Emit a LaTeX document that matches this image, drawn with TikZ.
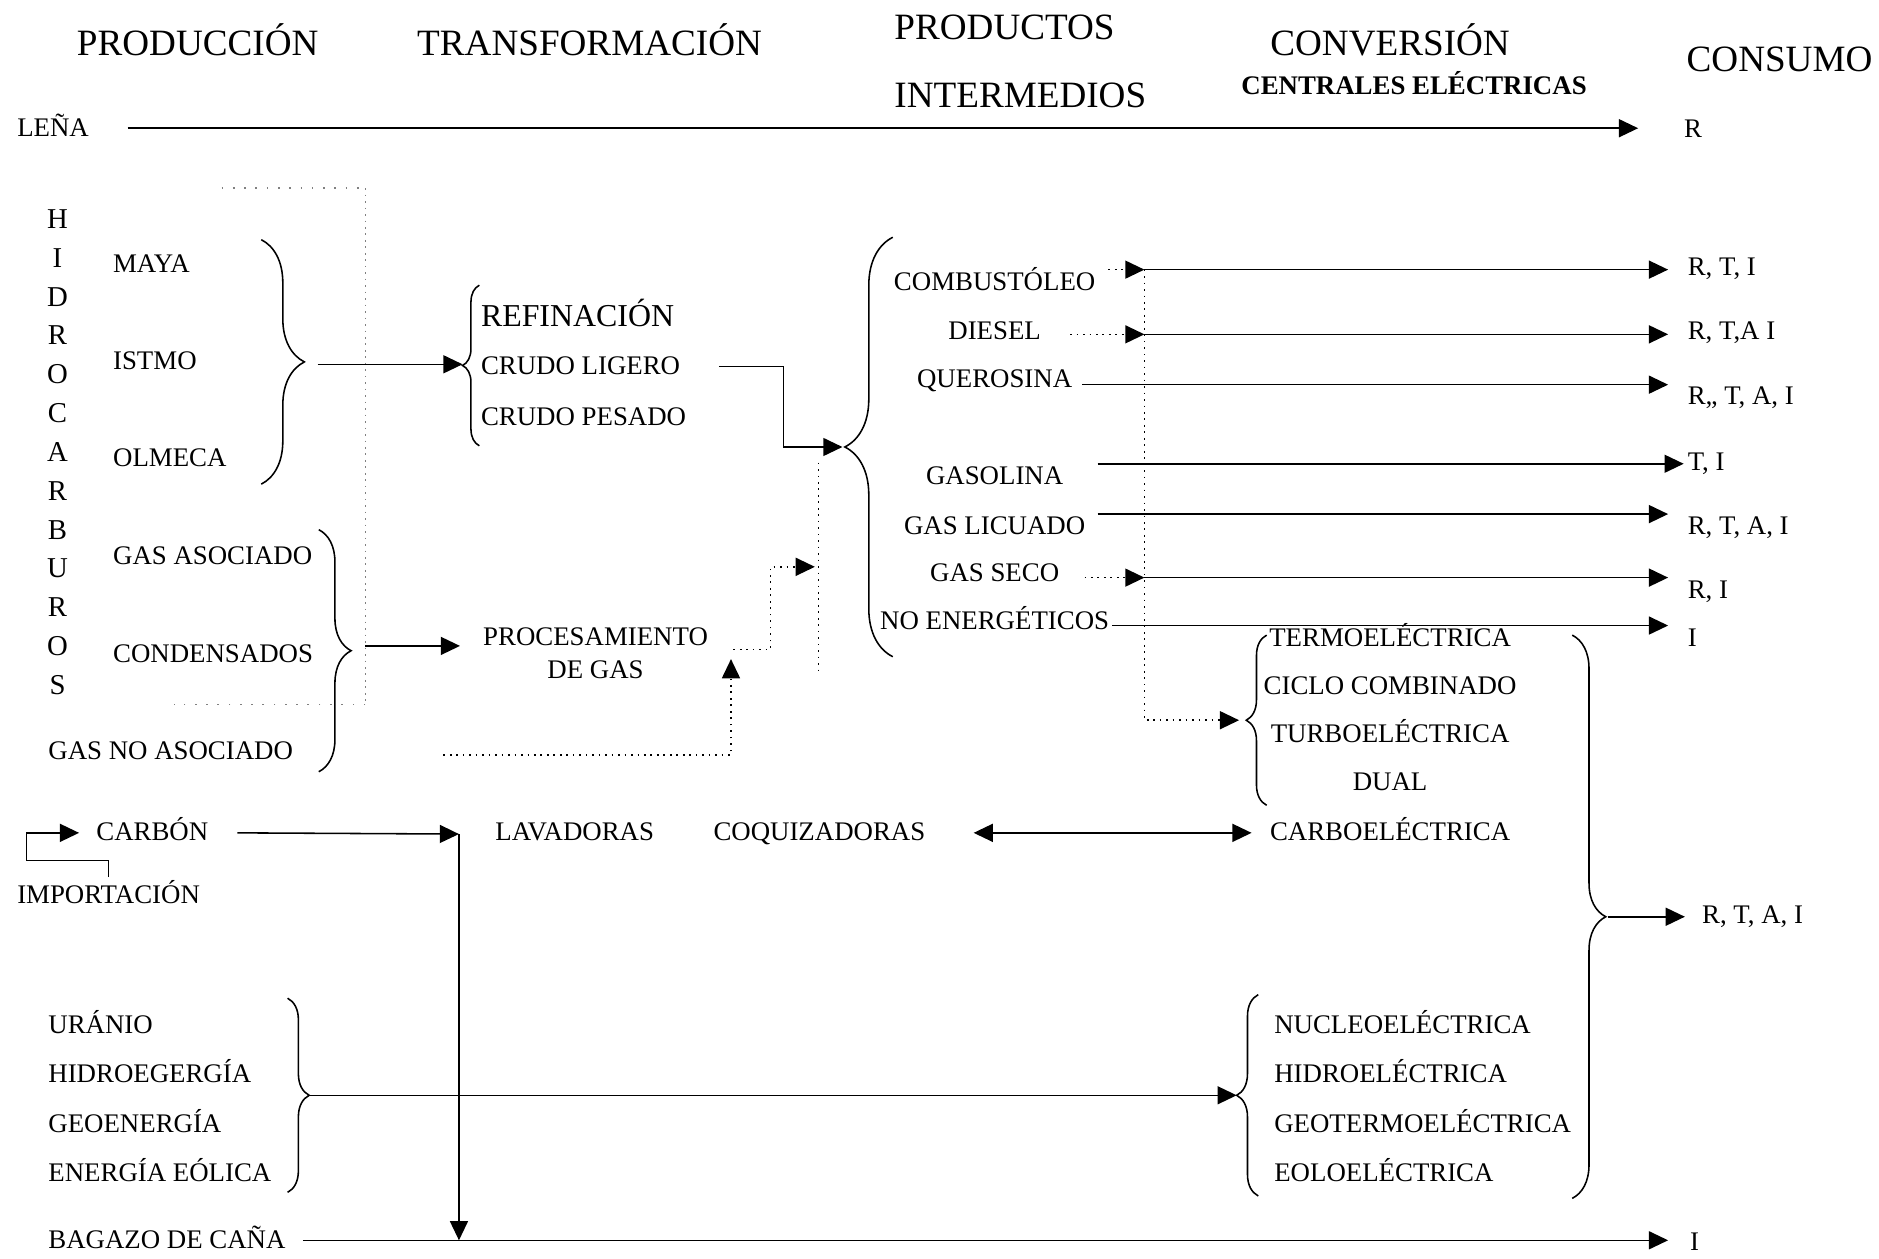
\documentclass[tikz,border=0pt]{standalone}
\usepackage{fontspec}
\setmainfont{Liberation Serif}
\usetikzlibrary{arrows.meta,decorations.pathreplacing}

\tikzset{
  lbl/.style={inner sep=0pt, text height=1.45ex, text depth=0pt, yshift=-1pt, font=\fontsize{11.2}{13}\selectfont},
  hdr/.style={lbl, yshift=-1.5pt, font=\fontsize{15.5}{18}\selectfont},
  flow/.style={line width=0.65pt, ->},
  dots/.style={line width=0.7pt, dotted},
  dotflow/.style={dots, ->},
  brc/.style={decorate, line width=0.65pt, decoration={brace, amplitude=#1}},
}

\begin{document}
\begin{tikzpicture}[x=0.5pt, y=-0.5pt, >={Triangle[length=8pt,width=7.5pt]}]
  \useasboundingbox (0,0) rectangle (1568,1050);
  % titulos
  \node[hdr] (tprod) at (165,35) {PRODUCCIÓN};
  \node[hdr] (ttrans) at (492,35) {TRANSFORMACIÓN};
  \node[hdr, anchor=west] (tint1) at (746,21) {PRODUCTOS};
  \node[hdr, anchor=west] (tint2) at (746,78) {INTERMEDIOS};
  \node[hdr] (tconv) at (1160,35) {CONVERSIÓN};
  \node[lbl, font=\fontsize{11.2}{13}\bfseries] (tcent) at (1180,70) {CENTRALES ELÉCTRICAS};
  \node[hdr] (tcons) at (1485,48) {CONSUMO};

  % leña
  \node[lbl, anchor=west] (lena) at (14,105) {LEÑA};
  \node[lbl, anchor=west] (kl) at (1405,106) {R};
  \draw[flow, shorten >=19pt] ([xshift=16pt]lena.east) -- (lena.east -| kl.west);

  % hidrocarburos
  \foreach [count=\k] \ch in {H,I,D,R,O,C,A,R,B,U,R,O,S}
    \node[lbl, font=\fontsize{12}{14}\selectfont] (h\k) at (48,{182+32.4*(\k-1)}) {\ch};
  \draw[dots, loosely dotted, gray] (185,157) -- (305,157);
  \draw[dots, gray] (305,157) -- (305,588);
  \draw[dots, loosely dotted, gray] (305,588) -- (145,588);

  % crudos y refinacion
  \foreach \nm/\tx/\y in {maya/MAYA/219, istmo/ISTMO/300, olmeca/OLMECA/381}
    \node[lbl, anchor=west] (\nm) at (94,\y) {\tx};
  \draw[brc=18pt] (218,200) -- (218,404);
  \coordinate (crtip) at (265,304);
  \draw[brc=7pt] (400,372) -- (400,238);
  \coordinate (reftip) at (386,304);
  \draw[flow] (crtip) -- (reftip);
  \node[lbl, anchor=west, font=\fontsize{13.3}{16}\selectfont] (refin) at (401,264) {REFINACIÓN};
  \node[lbl, anchor=west] (ligero) at (401,304) {CRUDO LIGERO};
  \node[lbl, anchor=west] (pesado) at (401,346) {CRUDO PESADO};

  % productos intermedios
  \coordinate (prtip) at (703,373);
  \draw[flow] ([xshift=16pt]ligero.east) -- ++(54,0) |- (prtip);
  \draw[brc=20pt] (745,548) -- (745,198);
  \foreach \i/\tx/\yt/\yl/\xs/\cs/\yk/\gp in {
      1/COMBUSTÓLEO/234/225/955/{R, T, I}/221/8,
      2/DIESEL/275/279/955/{R, T,A I}/275/8,
      3/QUEROSINA/315/321/903/{R,, T, A, I}/329/8,
      4/GASOLINA/396/387/916/{T, I}/384/1.5,
      5/GAS LICUADO/437/429/916/{R, T, A, I}/437/8,
      6/GAS SECO/477/482/955/{R, I}/491/8,
      7/NO ENERGÉTICOS/517/522/928/I/531/8}{
    \node[lbl] (p\i) at (830,\yt) {\tx};
    \node[lbl, anchor=west] (k\i) at (1408,\yk) {\cs};
    \coordinate (s\i) at (\xs,\yl);
    \draw[flow, shorten >=\gp pt] (s\i) -- (s\i -| k\i.west);
  }
  \coordinate (d1) at (925,225);
  \coordinate (d2) at (893,279);
  \coordinate (d6) at (905,482);
  \foreach \i in {1,2,6}
    \draw[dotflow] (d\i) -- (s\i);

  % centrales termicas
  \draw[brc=8.5pt] (1057,672) -- (1057,530);
  \coordinate (thtip) at (1040,601);
  \draw[dotflow, shorten >=3pt] (s1) |- (thtip);
  \foreach \nm/\tx/\y in {termo/TERMOELÉCTRICA/531, ciclo/CICLO COMBINADO/571,
      turbo/TURBOELÉCTRICA/611, dual/DUAL/651, carbo/CARBOELÉCTRICA/693}
    \node[lbl] (\nm) at (1160,\y) {\tx};
  \draw[brc=14pt] (1312,530) -- (1312,1000);
  \coordinate (bigtip) at (1342,765);
  \node[lbl, anchor=west] (kr) at (1420,762) {R, T, A, I};
  \draw[flow, shorten >=7pt] (bigtip) -- (bigtip -| kr.west);

  % gas
  \foreach \nm/\tx/\x/\y in {gasaso/GAS ASOCIADO/94/462, cond/CONDENSADOS/94/544,
      gasno/GAS NO ASOCIADO/40/625}
    \node[lbl, anchor=west] (\nm) at (\x,\y) {\tx};
  \draw[brc=13.5pt] (266,442) -- (266,644);
  \coordinate (gstip) at (305,539);
  \node[inner sep=0pt, align=center, yshift=-1pt, font=\fontsize{11.2}{13.5}\selectfont] (proc) at (497,543) {PROCESAMIENTO\\DE GAS};
  \draw[flow, shorten >=9.5pt] (gstip) -- (gstip -| proc.west);
  \coordinate (gb) at (370,630);
  \coordinate (gup) at (610,550);
  \draw[dotflow] (gb) -| (gup);
  \coordinate (ga) at (612,542);
  \coordinate (gq) at (680,473);
  \draw[dotflow] (ga) -- (643,542) |- (gq);
  \draw[dots] (683,386) -- (683,560);

  % carbon
  \node[lbl, anchor=west] (bagazo) at (40,1033) {BAGAZO DE CAÑA};
  \node[lbl, anchor=west] (carbon) at (80,693) {CARBÓN};
  \node[lbl, anchor=west] (impo) at (14,745) {IMPORTACIÓN};
  \draw[flow, shorten <=4pt, shorten >=7pt] (impo.north) |- (22,718) |- (carbon.west);
  \node[lbl, anchor=west] (lav) at (413,693) {LAVADORAS};
  \node[lbl, anchor=west] (coq) at (595,693) {COQUIZADORAS};
  \coordinate (cv) at (383,696);
  \draw[flow] ([xshift=12pt]carbon.east) -- (cv);
  \draw[flow] (cv) -- (cv |- bagazo);
  \draw[flow, <->] ([xshift=20pt]coq.east) -- ([xshift=-7.5pt]carbo.west);

  % uranio y renovables
  \foreach \nm/\tx/\y in {uran/URÁNIO/854, hidro/HIDROEGERGÍA/895, geo/GEOENERGÍA/936,
      eol/ENERGÍA EÓLICA/977}
    \node[lbl, anchor=west] (\nm) at (40,\y) {\tx};
  \draw[brc=9pt] (240,833) -- (240,995);
  \coordinate (rntip) at (258,914);
  \draw[brc=9pt] (1050,998) -- (1050,830);
  \coordinate (nctip) at (1032,914);
  \draw[flow] (rntip) -- (nctip);
  \foreach \nm/\tx/\y in {nucl/NUCLEOELÉCTRICA/854, hidroel/HIDROELÉCTRICA/895,
      geot/GEOTERMOELÉCTRICA/936, eolo/EOLOELÉCTRICA/977}
    \node[lbl, anchor=west] (\nm) at (1063,\y) {\tx};

  % bagazo
  \node[lbl, anchor=west] (kb) at (1410,1035) {I};
  \draw[flow, shorten >=9pt] ([xshift=7pt]bagazo.east) -- (bagazo.east -| kb.west);
\end{tikzpicture}
\end{document}
